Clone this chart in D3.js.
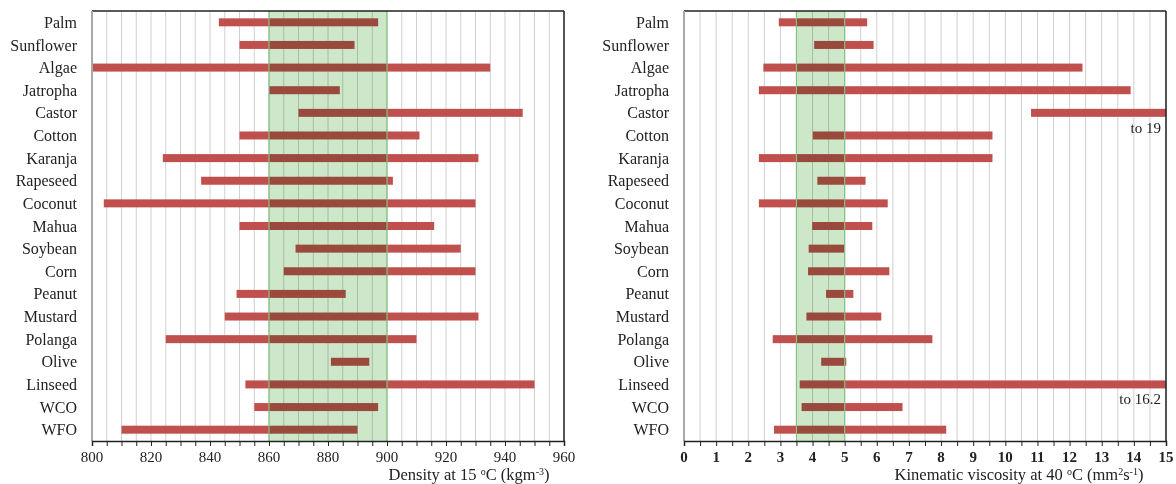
<!DOCTYPE html>
<html>
<head>
<meta charset="utf-8">
<script src="https://cdn.jsdelivr.net/npm/d3@7"></script>
<style>
  body { margin: 0; background: #fff; }
  text { font-family: "Liberation Serif", "Times New Roman", serif; fill: #222; }
</style>
</head>
<body>
<div id="chart-area"></div>
<script>
// feedstocks, top to bottom
var fuels = ["Palm", "Sunflower", "Algae", "Jatropha", "Castor", "Cotton", "Karanja", "Rapeseed",
  "Coconut", "Mahua", "Soybean", "Corn", "Peanut", "Mustard", "Polanga", "Olive", "Linseed", "WCO", "WFO"];

// density at 15 C, kg/m3 (min, max)
var densMin = [843, 850, 800, 860, 870, 850, 824, 837, 804, 850, 869, 865, 849, 845, 825, 881, 852, 855, 810];
var densMax = [897, 889, 935, 884, 946, 911, 931, 902, 930, 916, 925, 930, 886, 931, 910, 894, 950, 897, 890];

// kinematic viscosity at 40 C, mm2/s (min, max)
var viscMin = [2.95, 4.05, 2.47, 2.33, 10.8, 4.01, 2.33, 4.15, 2.33, 3.99, 3.88, 3.86, 4.42, 3.81, 2.76, 4.27, 3.6, 3.66, 2.8];
var viscMax = [5.7, 5.9, 12.4, 13.9, 19, 9.6, 9.6, 5.65, 6.34, 5.86, 4.98, 6.39, 5.27, 6.14, 7.73, 5.05, 16.2, 6.8, 8.16];

// standard (EN 14214) limits
var densLimit = [860, 900];
var viscLimit = [3.5, 5];

var densTicks = [800, 820, 840, 860, 880, 900, 920, 940, 960];
var viscTicks = d3.range(0, 16);

var svg = d3.select("#chart-area").append("svg")
  .attr("width", 1176).attr("height", 484);

var plotTop = 11, plotBottom = 441;

var y = d3.scaleBand().domain(fuels).range([plotTop, plotBottom]);
var barH = 8;

function panel(opts) {
  var x = opts.x;
  var g = svg.append("g");
  var lo = opts.lo, hi = opts.hi;
  var xDom = x.domain();

  // grid
  g.selectAll(".grid").data(opts.grid).enter().append("line")
    .attr("x1", d => x(d)).attr("x2", d => x(d))
    .attr("y1", plotTop).attr("y2", plotBottom)
    .attr("stroke", "#d0d0d0").attr("stroke-width", 1);

  // bars
  var rows = fuels.map((f, i) => ({ name: f, a: lo[i], b: hi[i] }));
  g.selectAll(".bar").data(rows).enter().append("rect")
    .attr("x", d => x(d.a))
    .attr("y", d => y(d.name) + y.bandwidth() / 2 - barH / 2)
    .attr("width", d => x(Math.min(d.b, xDom[1])) - x(d.a))
    .attr("height", barH)
    .attr("fill", "#c0504d");

  // recommended range
  g.append("rect")
    .attr("x", x(opts.limit[0])).attr("y", plotTop)
    .attr("width", x(opts.limit[1]) - x(opts.limit[0]))
    .attr("height", plotBottom - plotTop)
    .attr("fill", "#cde8c9")
    .style("mix-blend-mode", "multiply");
  g.selectAll(".edge").data(opts.limit).enter().append("line")
    .attr("x1", d => x(d)).attr("x2", d => x(d))
    .attr("y1", plotTop).attr("y2", plotBottom)
    .attr("stroke", "#86c083").attr("stroke-width", 1.2);

  // frame
  g.append("line").attr("x1", x.range()[0]).attr("x2", x.range()[1])
    .attr("y1", plotTop).attr("y2", plotTop).attr("stroke", "#222").attr("stroke-width", 1.5);
  g.append("line").attr("x1", x.range()[1]).attr("x2", x.range()[1])
    .attr("y1", plotTop).attr("y2", plotBottom).attr("stroke", "#222").attr("stroke-width", 1.5);
  g.append("line").attr("x1", x.range()[0]).attr("x2", x.range()[0])
    .attr("y1", plotTop).attr("y2", plotBottom).attr("stroke", "#a8a8a8").attr("stroke-width", 2);

  // x axis
  var ax = g.append("g").attr("transform", "translate(0," + plotBottom + ")")
    .call(d3.axisBottom(x).tickValues(opts.grid).tickSize(5).tickFormat(""));
  ax.select(".domain").attr("stroke", "#222").attr("stroke-width", 1.5);
  ax.selectAll(".tick line").attr("stroke", "#222");
  g.selectAll(".tl").data(opts.ticks).enter().append("text")
    .attr("x", d => x(d)).attr("y", 461.5)
    .attr("text-anchor", "middle")
    .style("font-size", "15px")
    .style("font-weight", opts.bold ? "bold" : "normal")
    .text(d => d);

  // categories
  g.selectAll(".cat").data(fuels).enter().append("text")
    .attr("x", x.range()[0] - 15)
    .attr("y", d => y(d) + y.bandwidth() / 2)
    .attr("dy", "0.35em")
    .attr("text-anchor", "end")
    .style("font-size", "16px")
    .text(d => d);

  return g;
}

var xD = d3.scaleLinear().domain([800, 960]).range([92, 564]);
var gD = panel({ x: xD, lo: densMin, hi: densMax, limit: densLimit,
  grid: d3.range(800, 961, 5), ticks: densTicks, bold: false });

var xV = d3.scaleLinear().domain([0, 15]).range([684, 1166]);
var gV = panel({ x: xV, lo: viscMin, hi: viscMax, limit: viscLimit,
  grid: d3.range(0, 15.01, 0.5), ticks: viscTicks, bold: true });

// axis titles
function title(g, xPos, parts) {
  var t = g.append("text").attr("x", xPos).attr("y", 480.3)
    .attr("text-anchor", "middle").style("font-size", "16.5px");
  parts.forEach(p => {
    var s = t.append("tspan").text(p[0]);
    if (p[1]) s.attr("baseline-shift", "5px").style("font-size", "10px");
  });
}
title(gD, 469, [["Density at 15 "], ["o", 1], ["C (kgm"], ["-3", 1], [")"]]);
title(gV, 1019, [["Kinematic viscosity at 40 "], ["o", 1], ["C (mm"], ["2", 1], ["s"], ["-1", 1], [")"]]);

// values beyond the axis
var offScale = fuels.map((f, i) => ({ name: f, v: viscMax[i] })).filter(d => d.v > 15);
gV.selectAll(".off").data(offScale).enter().append("text")
  .attr("x", xV(15) - 5)
  .attr("y", d => y(d.name) + y.bandwidth() / 2 + 20)
  .attr("text-anchor", "end")
  .style("font-size", "15px")
  .text(d => "to " + d.v);
</script>
</body>
</html>
